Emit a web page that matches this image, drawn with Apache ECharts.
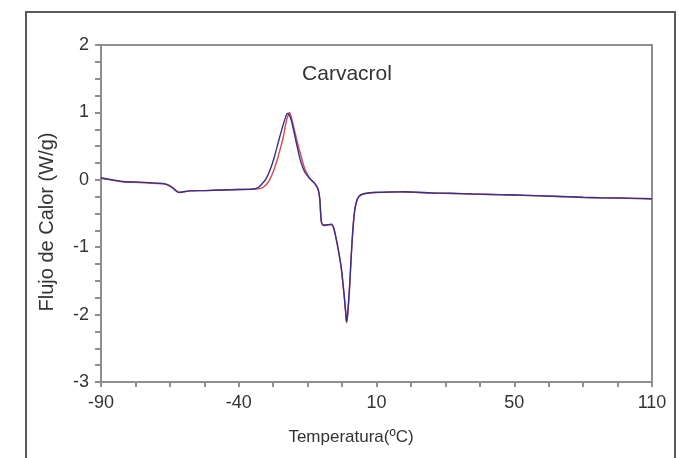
<!DOCTYPE html>
<html>
<head>
<meta charset="utf-8">
<script src="https://cdn.jsdelivr.net/npm/echarts@6/dist/echarts.min.js"></script>
<style>
html,body{margin:0;padding:0;background:#fff;}
#chart{width:690px;height:458px;}
</style>
</head>
<body>
<div id="chart"></div>
<script>
// ---- data ----
const chartTitle = 'Carvacrol';
const xTitle = 'Temperatura(ºC)';
const yTitle = 'Flujo de Calor (W/g)';
const xTickValues = [-90, -40, 10, 60, 110];
const xTickLabels = ['-90', '-40', '10', '50', '110'];
const yTickLabels = ['-3', '-2', '-1', '0', '1', '2'];

const tempBlue = [-90,-86,-82,-76,-70,-66.5,-64,-62,-60.5,-58,-52,-46,-40,-35,-33,-31.5,-30,-28.5,-27,-25.5,-24,-23,-22.4,-21.8,-20.9,-19.8,-18.5,-17.5,-16.1,-14.5,-13.5,-12.3,-11.2,-10.6,-10.0,-9.2,-7.5,-6.4,-5.5,-4.5,-3.8,-2.8,-2,-1.2,-0.9,-0.5,0.2,0.8,1.4,2.0,2.6,3.5,5,7,10,15,20,25,30,37,45,50,55,61,68,75,80,85,91,98,104,110];
const flowBlue = [0.03,0.0,-0.025,-0.035,-0.05,-0.065,-0.12,-0.185,-0.18,-0.165,-0.16,-0.152,-0.145,-0.137,-0.115,-0.06,0.02,0.16,0.35,0.58,0.8,0.93,0.985,0.97,0.88,0.68,0.44,0.27,0.12,0.03,-0.01,-0.06,-0.14,-0.28,-0.62,-0.67,-0.665,-0.66,-0.72,-0.9,-1.05,-1.3,-1.6,-1.95,-2.1,-2.0,-1.6,-1.15,-0.75,-0.48,-0.34,-0.25,-0.21,-0.195,-0.185,-0.18,-0.178,-0.185,-0.195,-0.2,-0.21,-0.215,-0.22,-0.226,-0.235,-0.245,-0.252,-0.26,-0.266,-0.27,-0.275,-0.282];

const tempRed = [-90,-86,-82,-76,-70,-66,-63.5,-61.5,-60,-57.5,-52,-46,-40,-35,-33,-31.5,-30,-28.8,-27.5,-26.3,-25,-23.9,-22.8,-22.0,-21.6,-21.0,-19.8,-18.5,-17.3,-16,-14.5,-13.5,-12.3,-11.2,-10.6,-10.0,-9.2,-7.5,-6.4,-5.5,-4.5,-3.8,-2.8,-2,-1.2,-0.9,-0.5,0.2,0.8,1.4,2.0,2.6,3.5,5,7,10,15,20,25,30,37,45,50,55,61,68,75,80,85,91,98,104,110];
const flowRed = [0.02,-0.005,-0.03,-0.04,-0.055,-0.07,-0.13,-0.19,-0.18,-0.165,-0.16,-0.152,-0.145,-0.14,-0.135,-0.12,-0.07,0.0,0.12,0.26,0.45,0.62,0.86,0.97,1.0,0.94,0.74,0.52,0.34,0.16,0.04,-0.01,-0.06,-0.14,-0.28,-0.63,-0.68,-0.67,-0.665,-0.725,-0.91,-1.06,-1.31,-1.62,-1.97,-2.12,-2.02,-1.62,-1.16,-0.76,-0.49,-0.35,-0.255,-0.215,-0.2,-0.19,-0.183,-0.18,-0.188,-0.197,-0.203,-0.212,-0.217,-0.222,-0.228,-0.237,-0.247,-0.254,-0.262,-0.268,-0.272,-0.277,-0.284];

const pairs = (xs, ys) => xs.map((x, i) => [x, ys[i]]);

const chart = echarts.init(document.getElementById('chart'), null, {renderer: 'canvas'});
const axisGray = '#8e8e8e';
const txt = '#333';
const ff = '"Liberation Sans", Arial, sans-serif';

chart.setOption({
  animation: false,
  backgroundColor: '#fff',
  textStyle: {fontFamily: ff},
  graphic: [
    {
      type: 'polyline',
      shape: {points: [[26, 460], [26, 12], [675, 12], [675, 460]]},
      style: {stroke: '#5a5a5a', lineWidth: 2, fill: null},
      silent: true
    },
    {
      type: 'text', x: 351, y: 437,
      style: {text: xTitle, font: '17px "Liberation Sans", Arial, sans-serif', fill: txt, align: 'center', verticalAlign: 'middle'},
      silent: true
    },
    {
      type: 'text', x: 47, y: 222, rotation: Math.PI / 2,
      style: {text: yTitle, font: '20px "Liberation Sans", Arial, sans-serif', fill: txt, align: 'center', verticalAlign: 'middle'},
      silent: true
    }
  ],
  title: {
    text: chartTitle,
    left: 342, top: 59, textAlign: 'center',
    textStyle: {fontFamily: ff, fontSize: 21, fontWeight: 'normal', color: txt}
  },
  grid: {
    left: 101, top: 45, width: 551, height: 337,
    show: true, borderColor: axisGray, borderWidth: 2, backgroundColor: 'transparent'
  },
  xAxis: {
    type: 'value', min: -90, max: 110, interval: 50,
    axisLine: {show: true, onZero: false, lineStyle: {color: axisGray, width: 2}},
    axisTick: {show: true, inside: false, length: 5, lineStyle: {color: axisGray, width: 2}},
    minorTick: {show: true, splitNumber: 4, length: 5, lineStyle: {color: axisGray, width: 2}},
    splitLine: {show: false},
    axisLabel: {
      fontFamily: ff, fontSize: 18, color: txt, margin: 12,
      formatter: v => {
        const i = xTickValues.findIndex(t => Math.abs(t - v) < 1e-6);
        return i >= 0 ? xTickLabels[i] : '';
      }
    }
  },
  yAxis: {
    type: 'value', min: -3, max: 2, interval: 1,
    axisLine: {show: true, onZero: false, lineStyle: {color: axisGray, width: 2}},
    axisTick: {show: true, inside: false, length: 6, lineStyle: {color: axisGray, width: 2}},
    minorTick: {show: true, splitNumber: 4, length: 6, lineStyle: {color: axisGray, width: 2}},
    splitLine: {show: false},
    axisLabel: {
      fontFamily: ff, fontSize: 18, color: txt, margin: 12,
      formatter: v => {
        const s = String(Math.round(v));
        return yTickLabels.includes(s) ? s : '';
      }
    }
  },
  series: [
    {
      name: 'red', type: 'line', data: pairs(tempRed, flowRed),
      showSymbol: false, smooth: 0.3,
      lineStyle: {color: '#d9484a', width: 1.4}
    },
    {
      name: 'blue', type: 'line', data: pairs(tempBlue, flowBlue),
      showSymbol: false, smooth: 0.3,
      lineStyle: {color: '#34308f', width: 1.4}
    }
  ]
});
</script>
</body>
</html>
